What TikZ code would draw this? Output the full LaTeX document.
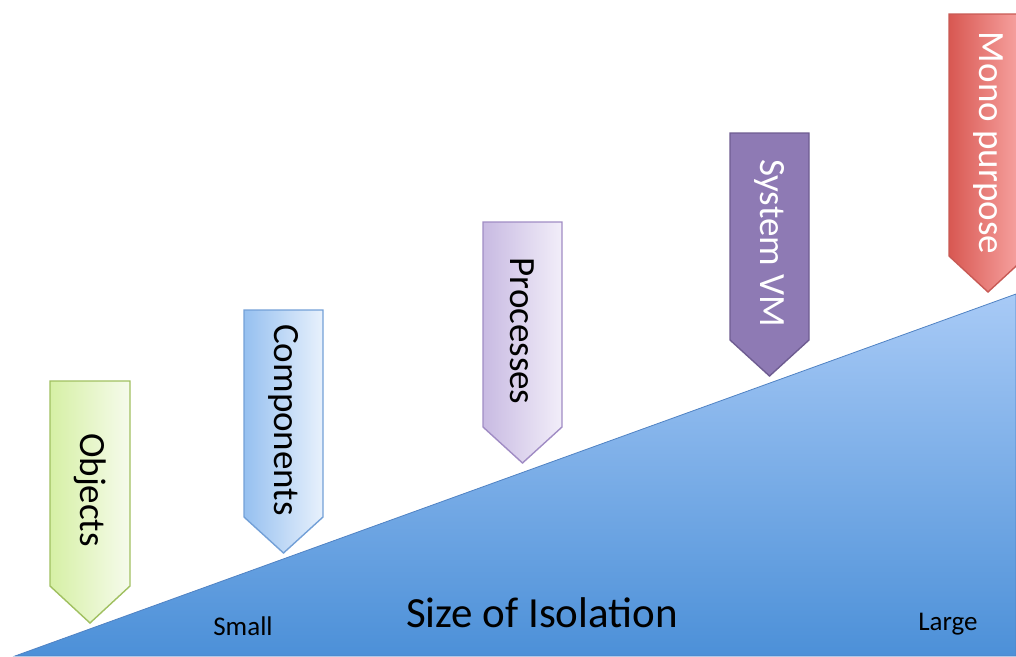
\documentclass[tikz,border=0pt]{standalone}
\usepackage{fontspec}
\setmainfont{Carlito}
\begin{document}
\begin{tikzpicture}[x=1pt,y=-1pt,
  lbl/.style={rotate=-90,font=\fontsize{37}{44}\selectfont,inner sep=0pt},
  axislbl/.style={font=\fontsize{27}{32}\selectfont,inner sep=0pt},
  shp/.style={line width=1.4pt,line join=miter}]
\useasboundingbox (0,0) rectangle (1016,656);
\clip (0,0) rectangle (1016,656);
% base triangle
\path[top color={rgb,255:red,168;green,202;blue,246},bottom color={rgb,255:red,76;green,144;blue,216},
  draw={rgb,255:red,80;green,130;blue,195},line width=0.8pt]
  (15,656) -- (1016,294) -- (1016,656) -- cycle;
% Objects
\path[shp,left color={rgb,255:red,214;green,240;blue,165},right color={rgb,255:red,246;green,251;blue,236},
  draw={rgb,255:red,160;green,192;blue,96}]
  (50,381) -- (130,381) -- (130,586) -- (90,623) -- (50,586) -- cycle;
\node[lbl] (obj) at (90,490) {Objects};
% Components
\path[shp,left color={rgb,255:red,150;green,192;blue,240},right color={rgb,255:red,232;green,241;blue,252},
  draw={rgb,255:red,115;green,160;blue,215}]
  (244,310) -- (323,310) -- (323,517) -- (283.5,553) -- (244,517) -- cycle;
\node[lbl] (comp) at (283.5,420) {Components};
% Processes
\path[shp,left color={rgb,255:red,200;green,186;blue,226},right color={rgb,255:red,242;green,238;blue,249},
  draw={rgb,255:red,160;green,140;blue,196}]
  (483,222) -- (562,222) -- (562,427) -- (522.5,463) -- (483,427) -- cycle;
\node[lbl] (proc) at (522.5,331) {Processes};
% System VM
\path[shp,fill={rgb,255:red,142;green,122;blue,180},
  draw={rgb,255:red,110;green,92;blue,145}]
  (730,133) -- (809,133) -- (809,340) -- (769.5,376) -- (730,340) -- cycle;
\node[lbl,text=white] (svm) at (769.5,243) {System VM};
% Mono purpose
\path[shp,left color={rgb,255:red,216;green,88;blue,82},right color={rgb,255:red,250;green,170;blue,168},
  draw={rgb,255:red,200;green,90;blue,85}]
  (949,14) -- (1027,14) -- (1027,256) -- (988,292) -- (949,256) -- cycle;
\node[lbl,text=white] (mono) at (988,143) {Mono purpose};
% axis labels
\node[axislbl] (small) at (243,626) {Small};
\node[font=\fontsize{43}{50}\selectfont,inner sep=0pt] (title) at (542,613) {Size of Isolation};
\node[axislbl] (large) at (948,624) {Large};
\end{tikzpicture}
\end{document}
